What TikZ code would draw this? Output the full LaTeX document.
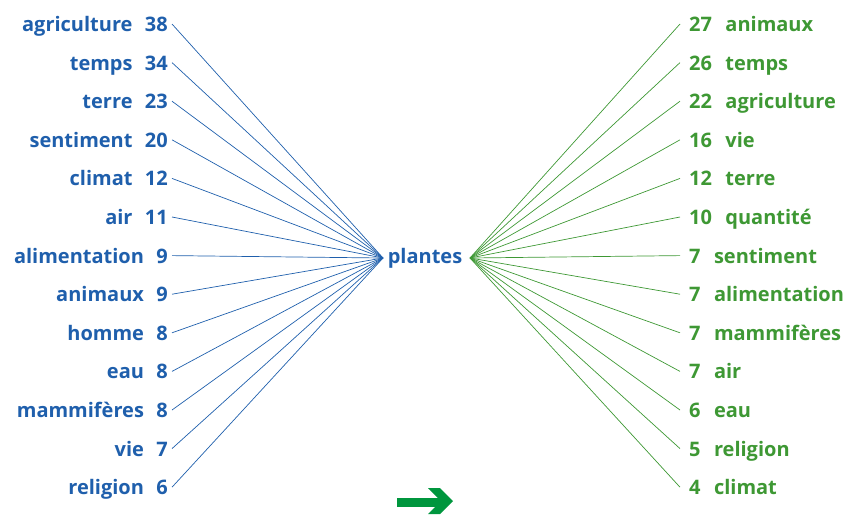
\documentclass[tikz,border=0pt]{standalone}
\usepackage{fontspec}
\setmainfont{Open Sans}
\usepackage{tikz}
\usetikzlibrary{positioning,calc}

\definecolor{leftblue}{RGB}{31,95,172}
\definecolor{rightgreen}{RGB}{62,152,52}
\definecolor{arrowgreen}{RGB}{0,150,62}

\tikzset{
  wordfont/.style={inner sep=0pt, font=\fontsize{20}{24}\selectfont\bfseries},
  lnum/.style={wordfont, anchor=base east, text=leftblue},
  lword/.style={wordfont, anchor=base east, text=leftblue},
  rnum/.style={wordfont, anchor=base west, text=rightgreen},
  rword/.style={wordfont, anchor=base west, text=rightgreen},
  lline/.style={leftblue, line width=0.7pt},
  rline/.style={rightgreen, line width=0.7pt}
}

\begin{document}
\begin{tikzpicture}[x=1pt,y=-1pt]
\useasboundingbox (0,0) rectangle (845,515);

% Centre word
\node[wordfont, anchor=base, text=leftblue] (plantes) at (425,263) {plantes};
\coordinate (hubL) at (383,258);
\coordinate (hubR) at (470,258);

% Left column (counts)
\node[lnum] (l1) at (168,31.5) {38};   \node[left=12pt of l1.base west, lword] {agriculture};
\node[lnum] (l2) at (168,70.1) {34};   \node[left=12pt of l2.base west, lword] {temps};
\node[lnum] (l3) at (168,108.7) {23};  \node[left=12pt of l3.base west, lword] {terre};
\node[lnum] (l4) at (168,147.3) {20};  \node[left=12pt of l4.base west, lword] {sentiment};
\node[lnum] (l5) at (168,185.9) {12};  \node[left=12pt of l5.base west, lword] {climat};
\node[lnum] (l6) at (168,224.5) {11};  \node[left=12pt of l6.base west, lword] {air};
\node[lnum] (l7) at (168,263.1) {9};   \node[left=12pt of l7.base west, lword] {alimentation};
\node[lnum] (l8) at (168,301.7) {9};   \node[left=12pt of l8.base west, lword] {animaux};
\node[lnum] (l9) at (168,340.3) {8};   \node[left=12pt of l9.base west, lword] {homme};
\node[lnum] (l10) at (168,378.9) {8};  \node[left=12pt of l10.base west, lword] {eau};
\node[lnum] (l11) at (168,417.5) {8};  \node[left=12pt of l11.base west, lword] {mammifères};
\node[lnum] (l12) at (168,456.1) {7};  \node[left=12pt of l12.base west, lword] {vie};
\node[lnum] (l13) at (168,494.7) {6};  \node[left=12pt of l13.base west, lword] {religion};

% Right column (counts)
\node[rnum] (r1) at (689,31.5) {27};   \node[right=13pt of r1.base east, rword] {animaux};
\node[rnum] (r2) at (689,70.1) {26};   \node[right=13pt of r2.base east, rword] {temps};
\node[rnum] (r3) at (689,108.7) {22};  \node[right=13pt of r3.base east, rword] {agriculture};
\node[rnum] (r4) at (689,147.3) {16};  \node[right=13pt of r4.base east, rword] {vie};
\node[rnum] (r5) at (689,185.9) {12};  \node[right=13pt of r5.base east, rword] {terre};
\node[rnum] (r6) at (689,224.5) {10};  \node[right=13pt of r6.base east, rword] {quantité};
\node[rnum] (r7) at (689,263.1) {7};   \node[right=13pt of r7.base east, rword] {sentiment};
\node[rnum] (r8) at (689,301.7) {7};   \node[right=13pt of r8.base east, rword] {alimentation};
\node[rnum] (r9) at (689,340.3) {7};   \node[right=13pt of r9.base east, rword] {mammifères};
\node[rnum] (r10) at (689,378.9) {7};  \node[right=13pt of r10.base east, rword] {air};
\node[rnum] (r11) at (689,417.5) {6};  \node[right=13pt of r11.base east, rword] {eau};
\node[rnum] (r12) at (689,456.1) {5};  \node[right=13pt of r12.base east, rword] {religion};
\node[rnum] (r13) at (689,494.7) {4};  \node[right=13pt of r13.base east, rword] {climat};

% Fan of lines
\foreach \i in {1,...,13} {
  \draw[lline] ($(l\i.base east)+(4,-7.5)$) -- (hubL);
  \draw[rline] (hubR) -- ($(r\i.base west)+(-9,-7.5)$);
}

% Green arrow
\fill[arrowgreen] (397,498) rectangle (442,507);
\fill[arrowgreen] (428,488) -- (440,488) -- (453,501) -- (440,514) -- (428,514) -- (441,501) -- cycle;

\end{tikzpicture}
\end{document}
